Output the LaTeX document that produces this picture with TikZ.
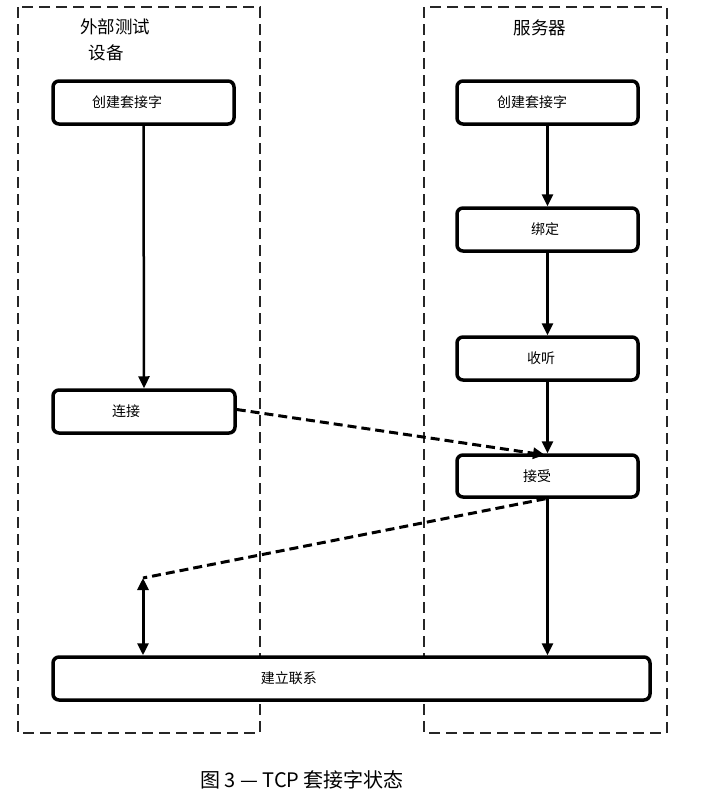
\documentclass[tikz,border=0pt]{standalone}
\usepackage{fontspec}
\setmainfont{Noto Sans CJK SC}
\usetikzlibrary{arrows.meta}
\newcommand{\boxtxtshift}[2]{#1\hspace*{#2}}
\begin{document}
\begin{tikzpicture}[x=1pt,y=-1pt,
  lane/.style={draw=black!85,line width=2.5pt,dash pattern=on 11pt off 6pt},
  stepbox/.style={draw=black,line width=3.5pt,rounded corners=6pt,fill=white,inner sep=0pt,font=\fontsize{14}{16}\selectfont},
  tip/.style={-{Triangle[length=12pt,width=11pt]}},
  flow/.style={draw=black,line width=2.5pt,tip},
  msg/.style={draw=black,line width=3pt,dash pattern=on 9pt off 5pt}
]
\useasboundingbox (0,0) rectangle (718,796);
% lanes
\draw[lane] (18,7) rectangle (260,733);
\draw[lane] (424,7) rectangle (667,733);
\node[font=\fontsize{17.5}{20}\selectfont] (lt1) at (115,27) {外部测试};
\node[font=\fontsize{17.5}{20}\selectfont] (lt2) at (106,53) {设备};
\node[font=\fontsize{17.5}{20}\selectfont] (rt) at (540,28) {服务器};
% boxes
\node[stepbox,minimum width=181pt,minimum height=43pt] (lc) at (143.5,102.5) {\boxtxtshift{创建套接字}{33pt}};
\node[stepbox,minimum width=181pt,minimum height=43pt] (rc) at (547.5,102.5) {\boxtxtshift{创建套接字}{31pt}};
\node[stepbox,minimum width=181pt,minimum height=43pt] (bd) at (547.5,229.5) {\boxtxtshift{绑定}{5pt}};
\node[stepbox,minimum width=181pt,minimum height=43pt] (ls) at (547.5,358.5) {\boxtxtshift{收听}{13pt}};
\node[stepbox,minimum width=182pt,minimum height=43pt] (cn) at (144,411.5) {\boxtxtshift{连接}{36pt}};
\node[stepbox,minimum width=181pt,minimum height=42pt] (ac) at (547.5,476) {\boxtxtshift{接受}{21pt}};
\node[stepbox,minimum width=597pt,minimum height=43pt,text width=597pt,align=left] (es) at (351.5,678.5) {\hspace{208pt}建立联系};
% solid flows
\draw[flow] (lc.south) -- (cn.north);
\draw[flow] (rc.south) -- (bd.north);
\draw[flow] (bd.south) -- (ls.north);
\draw[flow] (ls.south) -- (ac.north);
\draw[flow] (ac.south) -- (ac.south |- es.north);
% dashed messages
\coordinate (ackend) at (143,578);
\draw[msg,tip] (cn.east) ++(0,-2) -- (545,455);
\draw[msg] ([xshift=-2pt]ac.south) -- (ackend);
\draw[draw=black,line width=3pt,{Triangle[length=12pt,width=11pt]}-{Triangle[length=12pt,width=11pt]}] (ackend) -- (ackend |- es.north);
% caption
\node[font=\fontsize{20}{22}\selectfont] (cap) at (302,780) {图 3 — TCP 套接字状态};
\end{tikzpicture}
\end{document}
